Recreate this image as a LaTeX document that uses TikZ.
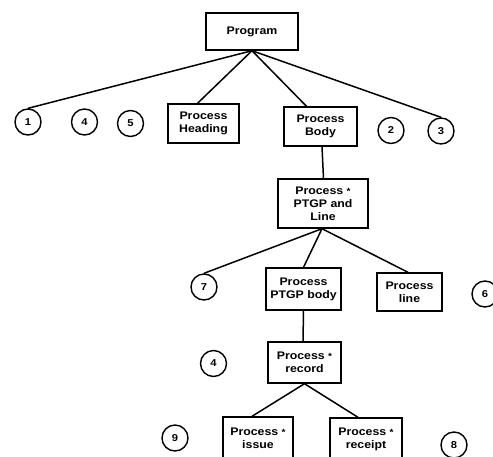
\documentclass[tikz,border=0pt]{standalone}
\usepackage{fontspec}
\setmainfont{Liberation Sans}[FakeStretch=1.12]
\usetikzlibrary{calc}
\begin{document}
\begin{tikzpicture}[x=1pt,y=-1pt,
  boxnode/.style={draw,line width=1.4pt,align=center,inner sep=1pt,
    font=\fontsize{11}{13}\selectfont\bfseries},
  numnode/.style={draw,circle,line width=1.4pt,minimum size=26pt,inner sep=0pt,
    font=\fontsize{10}{11}\selectfont\bfseries},
  conn/.style={line width=1.5pt}]
\useasboundingbox (0,0) rectangle (493,456);
\node[boxnode,minimum width=92pt,minimum height=37pt] (prog) at (252,31.5) {Program};
\node[boxnode,minimum width=71pt,minimum height=39pt] (hd) at (203.5,123.5) {Process\\Heading};
\node[boxnode,minimum width=73pt,minimum height=39pt] (bd) at (320.5,126.5) {Process\\Body};
\node[numnode] (c1) at (28,122) {1};
\node[numnode] (c4a) at (84.5,122) {4};
\node[numnode] (c5) at (130.5,123.5) {5};
\node[numnode] (c2) at (391,130.5) {2};
\node[numnode] (c3) at (441,131) {3};
\node[boxnode,minimum width=90pt,minimum height=49pt] (ptgp) at (323,203.5) {Process {\small *}\\PTGP and\\Line};
\node[numnode] (c7) at (204,287) {7};
\node[boxnode,minimum width=75pt,minimum height=42pt] (pb) at (303.5,289) {Process\\PTGP body};
\node[boxnode,minimum width=65pt,minimum height=38pt] (pl) at (409.5,292) {Process\\line};
\node[numnode] (c6) at (485,294) {6};
\node[numnode] (c4b) at (213.5,363.5) {4};
\node[boxnode,minimum width=73pt,minimum height=41pt] (rec) at (304.5,362.5) {Process {\small *}\\record};
\node[numnode] (c9) at (175,438) {9};
\node[boxnode,minimum width=70pt,minimum height=42pt] (iss) at (258,438) {Process {\small *}\\issue};
\node[boxnode,minimum width=72pt,minimum height=42pt] (rc) at (366,439) {Process {\small *}\\receipt};
\node[numnode] (c8) at (454,445) {8};
\draw[conn] (prog.south) -- (c1.north);
\draw[conn] (prog.south) -- ($(hd.north)+(-6,0)$);
\draw[conn] (prog.south) -- ($(bd.north)+(-14,0)$);
\draw[conn] (prog.south) -- (c3.north);
\draw[conn] ($(bd.south)+(1.5,0)$) -- ($(ptgp.north)+(0.5,0)$);
\draw[conn] ($(ptgp.south)+(-1,0)$) -- (c7.north);
\draw[conn] ($(ptgp.south)+(-1,0)$) -- (pb.north);
\draw[conn] ($(ptgp.south)+(-1,0)$) -- ($(pl.north)+(-1.5,0)$);
\draw[conn] (pb.south) -- ($(rec.north)+(-1.5,0)$);
\draw[conn] (rec.south) -- ($(iss.north)+(-6,0)$);
\draw[conn] (rec.south) -- ($(rc.north)+(-8,0)$);
\end{tikzpicture}
\end{document}
